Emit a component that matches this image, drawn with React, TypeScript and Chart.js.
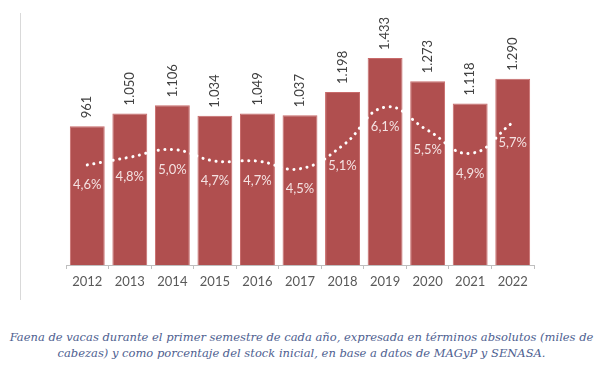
import React, { useEffect, useRef } from "react";
import { Chart, registerables } from "chart.js";

Chart.register(...registerables);

const years = ["2012", "2013", "2014", "2015", "2016", "2017", "2018", "2019", "2020", "2021", "2022"];
const faena = [961, 1050, 1106, 1034, 1049, 1037, 1198, 1433, 1273, 1118, 1290];
const pctStock = [4.6, 4.8, 5.0, 4.7, 4.7, 4.5, 5.1, 6.1, 5.5, 4.9, 5.7];

const fmtThousands = (v: number) => {
  const s = String(Math.round(v));
  return s.replace(/\B(?=(\d{3})+(?!\d))/g, ".");
};
const fmtPct = (v: number) => v.toFixed(1).replace(".", ",") + "%";

const labelPlugin = {
  id: "customLabels",
  afterDatasetsDraw(chart: any) {
    const ctx = chart.ctx;
    const barMeta = chart.getDatasetMeta(0);
    const lineMeta = chart.getDatasetMeta(1);
    ctx.save();
    ctx.font = "13px Lato";
    ctx.fillStyle = "#404040";
    barMeta.data.forEach((el: any, i: number) => {
      ctx.save();
      ctx.translate(el.x, el.y - 8);
      ctx.rotate(-Math.PI / 2);
      ctx.textAlign = "left";
      ctx.textBaseline = "middle";
      ctx.fillText(fmtThousands(faena[i]), 0, 0);
      ctx.restore();
    });
    ctx.fillStyle = "#f4e2e2";
    ctx.textAlign = "center";
    ctx.textBaseline = "middle";
    lineMeta.data.forEach((el: any, i: number) => {
      ctx.fillText(fmtPct(pctStock[i]), el.x, el.y + 20);
    });
    ctx.restore();
  },
};

export default function App() {
  const ref = useRef<HTMLCanvasElement>(null);
  useEffect(() => {
    const chart = new Chart(ref.current as HTMLCanvasElement, {
      type: "bar",
      data: {
        labels: years,
        datasets: [
          {
            type: "bar",
            data: faena,
            backgroundColor: "#b04f4f",
            borderColor: "#c86a6a",
            borderWidth: 1,
            barPercentage: 0.82,
            categoryPercentage: 1,
            yAxisID: "y",
            order: 1,
          } as any,
          {
            type: "line",
            data: pctStock,
            borderColor: "#ffffff",
            borderWidth: 3,
            borderDash: [0.1, 6.5],
            borderCapStyle: "round",
            tension: 0.45,
            pointRadius: 0,
            fill: false,
            yAxisID: "y1",
            order: 0,
          } as any,
        ],
      },
      options: {
        responsive: false,
        animation: false,
        layout: { padding: { left: 66, right: 69, top: 34, bottom: 10 } },
        plugins: { legend: { display: false }, tooltip: { enabled: false } },
        scales: {
          x: {
            offset: true,
            grid: {
              offset: true,
              drawOnChartArea: false,
              drawTicks: true,
              tickLength: 4,
              color: "#bfbfbf",
            },
            border: { color: "#bfbfbf" },
            ticks: { color: "#595959", font: { family: "Lato", size: 13 }, padding: 5 },
            afterFit(scale: any) {
              scale.height = 35;
            },
          } as any,
          y: { display: false, min: 0, max: 1600 },
          y1: { display: false, min: 2, max: 8 },
        },
      },
      plugins: [labelPlugin],
    });
    return () => chart.destroy();
  }, []);

  return (
    <div style={{ position: "fixed", left: 0, top: 0, width: 603, height: 379, background: "#fff" }}>
      <div style={{ position: "absolute", left: 20, top: 13, width: 1, height: 287, background: "#d9d9d9" }} />
      <canvas ref={ref} width={603} height={310} style={{ position: "absolute", left: 0, top: 0 }} />
      <div
        style={{
          position: "absolute",
          left: 0,
          top: 329,
          width: 603,
          textAlign: "center",
          fontFamily: "'DejaVu Serif', serif",
          fontStyle: "italic",
          fontSize: 11.5,
          lineHeight: "16px",
          color: "#4e6090",
          whiteSpace: "nowrap",
        }}
      >
        Faena de vacas durante el primer semestre de cada año, expresada en términos absolutos (miles de
        <br />
        cabezas) y como porcentaje del stock inicial, en base a datos de MAGyP y SENASA.
      </div>
    </div>
  );
}
